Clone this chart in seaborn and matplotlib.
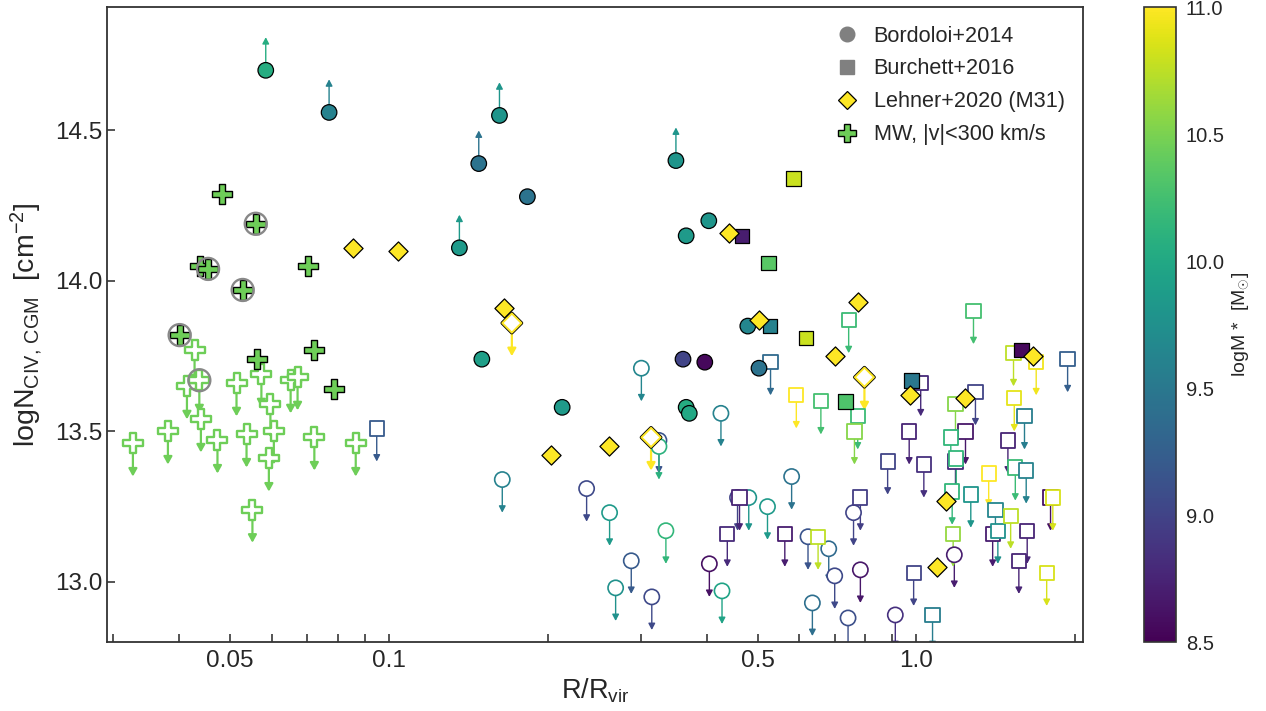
import numpy as np
import pandas as pd
import matplotlib
matplotlib.use("Agg")
import matplotlib.pyplot as plt
import matplotlib.patheffects as pe
from matplotlib.colors import Normalize
from matplotlib.lines import Line2D
from matplotlib.ticker import FixedLocator, NullFormatter
import seaborn as sns

# ---------------------------------------------------------------------------
# Data: R/Rvir, log N(CIV), log M*, and limit flag (0 detection, -1 upper, +1 lower)
# ---------------------------------------------------------------------------
bord_r = [0.150, 0.213, 0.183, 0.404, 0.366, 0.361, 0.397, 0.479, 0.503, 0.366, 0.371,
          0.0584, 0.0770, 0.162, 0.148, 0.136, 0.350,
          0.301, 0.426, 0.325, 0.325, 0.164, 0.237, 0.262, 0.335, 0.288, 0.269, 0.315,
          0.405, 0.428, 0.458, 0.481, 0.522, 0.580, 1.180, 0.912, 0.742, 0.635, 0.783,
          0.700, 0.682, 0.623, 0.760]
bord_n = [13.74, 13.58, 14.28, 14.20, 14.15, 13.74, 13.73, 13.85, 13.71, 13.58, 13.56,
          14.70, 14.56, 14.55, 14.39, 14.11, 14.40,
          13.71, 13.56, 13.47, 13.45, 13.34, 13.31, 13.23, 13.17, 13.07, 12.98, 12.95,
          13.06, 12.97, 13.28, 13.28, 13.25, 13.35, 13.09, 12.89, 12.88, 12.93, 13.04,
          13.02, 13.11, 13.15, 13.23]
bord_m = [9.90, 9.85, 9.45, 9.80, 9.85, 9.00, 8.55, 9.65, 9.45, 10.05, 10.00,
          10.05, 9.60, 9.80, 9.45, 9.85, 9.80,
          9.65, 9.60, 9.15, 10.10, 9.60, 9.05, 9.85, 10.15, 9.20, 9.75, 9.05,
          8.60, 9.95, 9.00, 9.80, 9.85, 9.45, 8.70, 8.85, 9.10, 9.40, 8.65,
          9.05, 9.35, 9.15, 9.00]
bord_flag = [0] * 11 + [1] * 6 + [-1] * 26

burc_r = [0.467, 0.524, 0.585, 0.528, 0.618, 0.978, 0.734, 1.582,
          0.0948, 0.529, 0.592, 0.462, 0.438, 0.563, 0.744, 1.019, 0.659, 0.774,
          0.763, 1.283, 1.528, 1.687, 1.935, 1.533, 1.603, 1.294, 1.186, 1.239,
          1.162, 0.969, 1.186, 1.190, 1.491, 1.540, 1.615, 0.882, 1.033, 0.783,
          1.169, 1.268, 1.371, 1.412, 1.395, 1.427, 1.509, 1.622, 1.564, 1.796,
          1.814, 1.766, 1.174, 0.988, 1.073, 0.651]
burc_n = [14.15, 14.06, 14.34, 13.85, 13.81, 13.67, 13.60, 13.77,
          13.51, 13.73, 13.62, 13.28, 13.16, 13.16, 13.87, 13.66, 13.60, 13.55,
          13.50, 13.90, 13.76, 13.73, 13.74, 13.61, 13.55, 13.63, 13.59, 13.50,
          13.48, 13.50, 13.40, 13.41, 13.47, 13.38, 13.37, 13.40, 13.39, 13.28,
          13.30, 13.29, 13.36, 13.24, 13.16, 13.17, 13.22, 13.17, 13.07, 13.28,
          13.28, 13.03, 13.16, 13.03, 12.89, 13.15]
burc_m = [8.70, 10.35, 10.80, 9.60, 10.80, 9.50, 10.30, 8.55,
          9.20, 9.35, 11.00, 8.75, 8.80, 8.70, 10.20, 8.80, 10.25, 10.20,
          10.55, 10.25, 10.75, 10.95, 9.25, 10.90, 9.55, 9.00, 10.55, 8.65,
          10.15, 8.75, 8.80, 10.15, 8.75, 10.20, 9.60, 9.00, 8.85, 8.95,
          10.15, 9.80, 11.00, 9.65, 8.70, 9.75, 10.75, 8.75, 8.75, 8.60,
          10.85, 10.85, 10.60, 9.00, 9.55, 10.75]
burc_flag = [0] * 8 + [-1] * 46

lehn_r = [0.0856, 0.104, 0.165, 0.203, 0.261, 0.442, 0.504, 0.774, 0.701, 0.974,
          1.234, 1.667, 1.138, 1.095,
          0.171, 0.314, 0.797]
lehn_n = [14.11, 14.10, 13.91, 13.42, 13.45, 14.16, 13.87, 13.93, 13.75, 13.62,
          13.61, 13.75, 13.27, 13.05,
          13.86, 13.48, 13.68]
lehn_flag = [0] * 14 + [-1] * 3
lehn_logm = 11.0

mw_r = [0.0401, 0.0439, 0.0454, 0.0482, 0.0528, 0.0559, 0.0561, 0.0703, 0.0720, 0.0788,
        0.0327, 0.0381, 0.0414, 0.0428, 0.0437, 0.0440, 0.0473, 0.0514, 0.0537, 0.0551,
        0.0573, 0.0596, 0.0605, 0.0592, 0.0651, 0.0671, 0.0722, 0.0865]
mw_n = [13.82, 14.05, 14.04, 14.29, 13.97, 14.19, 13.74, 14.05, 13.77, 13.64,
        13.46, 13.50, 13.65, 13.77, 13.67, 13.54, 13.47, 13.66, 13.49, 13.24,
        13.69, 13.59, 13.50, 13.41, 13.67, 13.68, 13.48, 13.46]
mw_flag = [0] * 10 + [-1] * 18
mw_ring = [1, 0, 1, 0, 1, 1, 0, 0, 0, 0,
           0, 0, 0, 0, 1, 0, 0, 0, 0, 0,
           0, 0, 0, 0, 0, 0, 0, 0]
mw_logm = 10.45

cbar_ticks = [8.5, 9.0, 9.5, 10.0, 10.5, 11.0]
x_major = [0.05, 0.1, 0.5, 1.0]
x_major_labels = ["0.05", "0.1", "0.5", "1.0"]
x_minor = [0.03, 0.04, 0.06, 0.07, 0.08, 0.09, 0.2, 0.3, 0.4, 0.6, 0.7, 0.8, 0.9, 2.0]
y_ticks = [13.0, 13.5, 14.0, 14.5]
limit_len = 0.11   # length of the limit arrows in dex

# ---------------------------------------------------------------------------
sns.set_style("ticks")
plt.rcParams["font.family"] = ["Liberation Sans", "DejaVu Sans"]
plt.rcParams["mathtext.fontset"] = "custom"
plt.rcParams["mathtext.rm"] = "Liberation Sans"
plt.rcParams["mathtext.it"] = "Liberation Sans:italic"
plt.rcParams["mathtext.bf"] = "Liberation Sans:bold"

cmap = plt.get_cmap("viridis")
norm = Normalize(8.5, 11.0)
mw_col = cmap(norm(mw_logm))
lehn_col = cmap(norm(lehn_logm))

fig = plt.figure(figsize=(12.66, 7.11), dpi=100)
ax = fig.add_axes([0.0845, 0.097, 0.771, 0.893])
cax = fig.add_axes([0.9035, 0.097, 0.0255, 0.893])
ax.set_xscale("log")


def frame(r, n, m, flag):
    return pd.DataFrame({"r": r, "n": n, "m": m, "flag": flag})


bord = frame(bord_r, bord_n, bord_m, bord_flag)
burc = frame(burc_r, burc_n, burc_m, burc_flag)
lehn = frame(lehn_r, lehn_n, [lehn_logm] * len(lehn_r), lehn_flag)
mw = frame(mw_r, mw_n, [mw_logm] * len(mw_r), mw_flag)
mw["ring"] = mw_ring


def limit_arrows(df, lw, hl, hw, color=None):
    """Arrow from each limit point, down for upper limits, up for lower limits."""
    for row in df[df.flag != 0].itertuples():
        c = color if color is not None else cmap(norm(row.m))
        tip = row.n + np.sign(row.flag) * limit_len
        ann = ax.annotate("", xy=(row.r, tip), xytext=(row.r, row.n), zorder=1.5,
                          annotation_clip=False,
                          arrowprops=dict(arrowstyle=f"-|>,head_length={hl},head_width={hw}",
                                          color=c, lw=lw, shrinkA=0, shrinkB=0))
        ann.arrow_patch.set_clip_box(ax.bbox)
        ann.arrow_patch.set_clip_on(True)


def markers(df, marker, s, open_, lw, color=None, zorder=3):
    kw = dict(data=df, x="r", y="n", marker=marker, s=s, legend=False, ax=ax,
              zorder=zorder)
    if color is None:
        kw.update(hue="m", palette="viridis", hue_norm=norm)
    else:
        kw.update(color=color)
    if open_:
        sns.scatterplot(**kw, edgecolor="none")
        coll = ax.collections[-1]
        coll.set_edgecolors(coll.get_facecolors())
        coll.set_facecolors("white")
        coll.set_linewidths(lw)
        return coll
    sns.scatterplot(**kw, edgecolor="k", linewidth=lw)
    return ax.collections[-1]


# limit arrows
limit_arrows(bord, 1.0, 0.38, 0.2)
limit_arrows(burc, 1.0, 0.38, 0.2)
limit_arrows(lehn, 1.6, 0.45, 0.25, color=lehn_col)
limit_arrows(mw, 1.6, 0.45, 0.25, color=mw_col)

# upper limits: open symbols
markers(bord[bord.flag < 0], "o", 120, True, 1.2, zorder=2)
markers(burc[burc.flag < 0], "s", 105, True, 1.3, zorder=2)
markers(mw[mw.flag < 0], "P", 190, True, 1.7, color=mw_col, zorder=2)

# detections and lower limits: filled symbols
markers(bord[bord.flag >= 0], "o", 125, False, 0.9, zorder=3)
markers(burc[burc.flag >= 0], "s", 110, False, 0.9, zorder=3)
markers(lehn[lehn.flag == 0], "D", 95, False, 0.9, color=lehn_col, zorder=4)
od = markers(lehn[lehn.flag < 0], "D", 95, True, 1.4, color=lehn_col, zorder=4)
od.set_path_effects([pe.Stroke(linewidth=2.6, foreground="k"), pe.Normal()])
markers(mw[mw.flag == 0], "P", 190, False, 1.0, color=mw_col, zorder=4)

# grey rings round selected MW sightlines
sns.scatterplot(data=mw[mw.ring == 1], x="r", y="n", marker="o", s=250, legend=False,
                ax=ax, zorder=5, facecolor="none", edgecolor="#888888", linewidth=1.7)

# axes
ax.set_xlim(0.0292, 2.07)
ax.set_ylim(12.80, 14.91)
ax.xaxis.set_major_locator(FixedLocator(x_major))
ax.set_xticklabels(x_major_labels)
ax.xaxis.set_minor_locator(FixedLocator(x_minor))
ax.xaxis.set_minor_formatter(NullFormatter())
ax.set_yticks(y_ticks)
ax.set_yticklabels([f"{v:.1f}" for v in y_ticks])
ax.tick_params(which="both", direction="in", length=6, width=1.1, labelsize=17.5,
               colors=".15")
ax.tick_params(axis="x", pad=6)
for sp in ax.spines.values():
    sp.set_linewidth(1.3)
    sp.set_color(".2")

ax.set_xlabel(r"R/R$_{\mathrm{vir}}$", fontsize=19.5, labelpad=3)
ax.set_ylabel(r"logN$_{\mathrm{CIV,\,CGM}}$  [cm$^{-2}$]", fontsize=20.5, labelpad=8)

# legend
handles = [
    Line2D([], [], ls="", marker="o", markersize=10.5, color="#808080"),
    Line2D([], [], ls="", marker="s", markersize=9.5, color="#808080"),
    Line2D([], [], ls="", marker="D", markersize=9, markerfacecolor=lehn_col,
           markeredgecolor="k", markeredgewidth=0.9),
    Line2D([], [], ls="", marker="P", markersize=13, markerfacecolor=mw_col,
           markeredgecolor="k", markeredgewidth=1.0),
]
labels = ["Bordoloi+2014", "Burchett+2016", "Lehner+2020 (M31)", "MW, |v|<300 km/s"]
ax.legend(handles, labels, loc="upper right", frameon=False, fontsize=15.6,
          labelspacing=0.55, handletextpad=0.45, borderaxespad=0.45, handlelength=1.6)

# colour bar
sm = plt.cm.ScalarMappable(norm=norm, cmap=cmap)
cb = fig.colorbar(sm, cax=cax, ticks=cbar_ticks)
cb.ax.set_yticklabels([f"{v:.1f}" for v in cbar_ticks])
cb.ax.tick_params(length=0, labelsize=14.5, pad=7, colors=".15")
cb.outline.set_edgecolor(".2")
cb.outline.set_linewidth(1.2)
cb.set_label(r"logM $*$  [M$_{\odot}$]", fontsize=14, labelpad=4, color=".15")

fig.savefig("out.png", dpi=100)
